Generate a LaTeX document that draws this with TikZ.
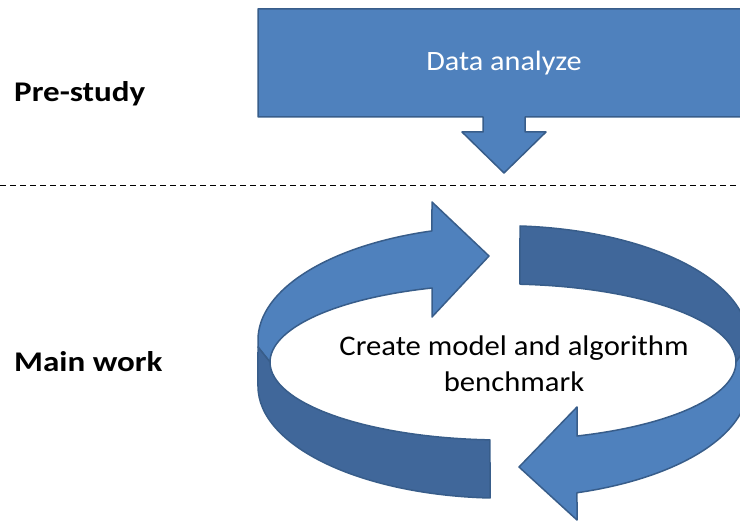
\documentclass[tikz,border=0pt]{standalone}
\usepackage{fontspec}
\setmainfont[FakeStretch=1.08]{Carlito}
\newfontfamily\phasefont[FakeStretch=1.16]{Carlito}
\definecolor{cycleBlue}{HTML}{4F81BD}
\definecolor{cycleBlueDark}{HTML}{40679A}
\definecolor{cycleEdge}{HTML}{385D8A}
\tikzset{
  light band/.style={fill=cycleBlue, draw=cycleEdge, line width=1.5pt,
    line join=round},
  dark band/.style={fill=cycleBlueDark, draw=cycleEdge, line width=1.5pt,
    line join=round},
  phase label/.style={anchor=base west, inner sep=0pt,
    font=\phasefont\fontsize{28.5}{32}\selectfont\bfseries},
  box text/.style={text=white, font=\fontsize{28}{32}\selectfont},
  cycle text/.style={align=center, font=\fontsize{28.4}{36}\selectfont},
  phase split/.style={dash pattern=on 6pt off 4pt, line width=0.8pt}
}
\begin{document}
\begin{tikzpicture}[x=1pt, y=-1pt]
  \useasboundingbox (0,0) rectangle (740,521);
  \clip (0,0) rectangle (740,521);
  % pre-study box with its down arrow
  \draw[light band] (258,9) -- (760,9) -- (760,117) -- (525,117)
    -- (525,132) -- (546,132) -- (504,173) -- (462,132) -- (483,132)
    -- (483,117) -- (258,117) -- cycle;
  \node[box text] (analyze) at (504,63) {Data analyze};
  \draw[phase split] (0,185) -- (740,185);
  % upper left arrow
  \draw[light band] (258,340)
    arc[start angle=-180, end angle=-106.85, x radius=245, y radius=114]
    -- (432,202) -- (489,256) -- (432,317) -- (432,288)
    arc[start angle=-107.74, end angle=-180, x radius=233, y radius=78]
    -- (258,347) -- cycle;
  % lower left band
  \draw[dark band] (258,347) -- (270,362)
    arc[start angle=180, end angle=93.2, x radius=233, y radius=78]
    -- (490,498)
    arc[start angle=93.04, end angle=180, x radius=245, y radius=112]
    -- cycle;
  % upper right band
  \draw[dark band] (520,226)
    arc[start angle=-86.02, end angle=0, x radius=245, y radius=114]
    -- (748,345) -- (736,362)
    arc[start angle=0, end angle=-85.82, x radius=233, y radius=78]
    -- cycle;
  % lower right arrow
  \draw[light band] (748,345) -- (748,386)
    arc[start angle=0, end angle=72.42, x radius=245, y radius=112]
    -- (577,520) -- (519,467) -- (577,407) -- (577,436)
    arc[start angle=71.48, end angle=0, x radius=233, y radius=78]
    -- cycle;
  \node[cycle text] (work) at (514,364) {Create model and algorithm\\benchmark};
  \node[phase label] (pre) at (14,102) {Pre-study};
  \node[phase label] (main) at (14,372) {Main work};
\end{tikzpicture}
\end{document}
